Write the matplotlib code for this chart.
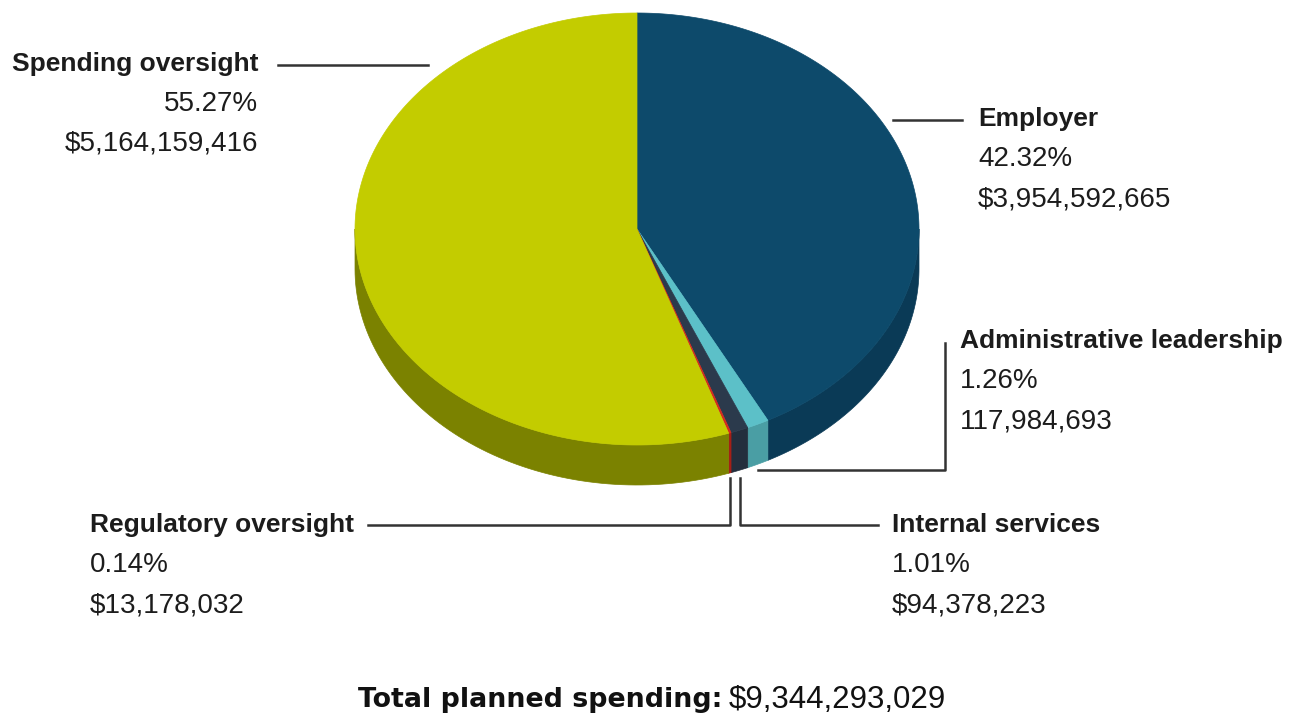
import numpy as np
import matplotlib
matplotlib.use("Agg")
from matplotlib import pyplot as plt
from matplotlib.patches import Polygon

# data (clockwise from 12 o'clock)
names = ["Employer", "Administrative leadership", "Internal services",
         "Regulatory oversight", "Spending oversight"]
percents = [42.32, 1.26, 1.01, 0.14, 55.27]
amounts = ["$3,954,592,665", "117,984,693", "$94,378,223",
           "$13,178,032", "$5,164,159,416"]
total_label = "$9,344,293,029"

top_colors = ["#0d4a6b", "#5cc0c8", "#2b3a4c", "#d42a1e", "#c3cc00"]
side_colors = ["#0a3a56", "#4a9ea4", "#232f3d", "#a51f16", "#7b8200"]

W, H = 1303, 719
fig = plt.figure(figsize=(W / 100, H / 100), dpi=100)
ax = fig.add_axes([0, 0, 1, 1])
ax.set_xlim(0, W)
ax.set_ylim(H, 0)
ax.axis("off")

cx, cy, rx, ry, depth = 637, 229, 282, 216, 40


def pt(t, dy=0):
    return cx + rx * np.cos(t), cy - ry * np.sin(t) + dy


fracs = np.array(percents) / sum(percents)
bounds = np.pi / 2 - 2 * np.pi * np.concatenate([[0], np.cumsum(fracs)])

# side walls (front half only)
for i in range(len(names)):
    t1, t2 = bounds[i + 1], bounds[i]
    for off in (0, -2 * np.pi, 2 * np.pi):
        a, b = t1 + off, t2 + off
        lo, hi = max(a, -np.pi), min(b, 0)
        if hi > lo:
            ts = np.linspace(lo, hi, 80)
            xs, ys = pt(ts)
            xb, yb = pt(ts[::-1], depth)
            poly = np.column_stack([np.r_[xs, xb], np.r_[ys, yb]])
            ax.add_patch(Polygon(poly, closed=True, facecolor=side_colors[i],
                                 edgecolor=side_colors[i], lw=0.5))

# top face
for i in range(len(names)):
    ts = np.linspace(bounds[i], bounds[i + 1], 200)
    xs, ys = pt(ts)
    poly = np.column_stack([np.r_[cx, xs], np.r_[cy, ys]])
    ax.add_patch(Polygon(poly, closed=True, facecolor=top_colors[i],
                         edgecolor=top_colors[i], lw=0.5))

fam = ["Liberation Sans", "DejaVu Sans"]
fs = 20
lc = "#333333"
tc = "#1c1c1c"
gap = 40


def label(x, y, i, ha="left"):
    ax.text(x, y, names[i], ha=ha, va="center", fontsize=19,
            fontweight="bold", family=fam, color=tc)
    ax.text(x, y + gap, f"{percents[i]:.2f}%", ha=ha, va="center",
            fontsize=fs, family=fam, color=tc)
    ax.text(x, y + 2 * gap, amounts[i], ha=ha, va="center",
            fontsize=fs, family=fam, color=tc)


# Spending oversight
label(258, 64, 4, ha="right")
ax.plot([278, 428], [65, 65], color=lc, lw=1.8)
# Employer
label(978, 119, 0)
ax.plot([893, 962], [120, 120], color=lc, lw=1.8)
# Administrative leadership
label(960, 341, 1)
ax.plot([945, 945, 758], [343, 470, 470], color=lc, lw=1.8)
# Regulatory oversight
label(90, 525, 3)
ax.plot([368, 730, 730], [525, 525, 478], color=lc, lw=1.8)
# Internal services
label(892, 525, 2)
ax.plot([878, 740, 740], [525, 525, 478], color=lc, lw=1.8)

# total
ax.text(722, 700, "Total planned spending:", ha="right", va="center",
        fontsize=19.4, fontweight="bold", family=["DejaVu Sans"],
        color="#111111")
ax.text(729, 700, total_label, ha="left", va="center", fontsize=22.5,
        family=fam, color="#111111")

fig.savefig("out.png", dpi=100, facecolor="white")
